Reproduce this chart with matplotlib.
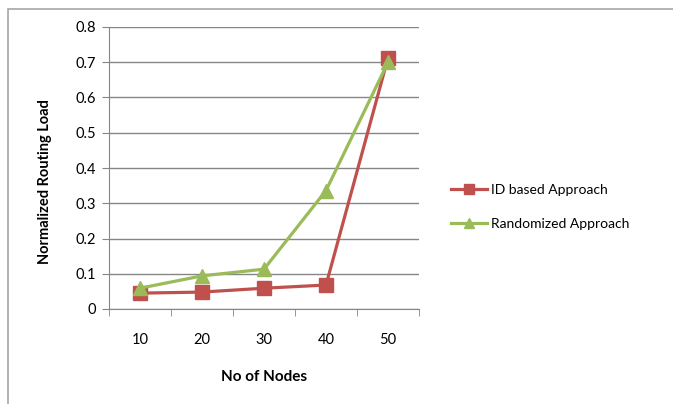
import numpy as np
import matplotlib.pyplot as plt
from matplotlib.patches import Rectangle

nodes = ["10", "20", "30", "40", "50"]
id_based = [0.045, 0.048, 0.059, 0.068, 0.712]
randomized = [0.059, 0.094, 0.113, 0.336, 0.700]

plt.rcParams['font.family'] = ['Lato', 'DejaVu Sans']

fig = plt.figure(figsize=(6.73, 4.04), dpi=100)
fig.patches.append(Rectangle((8 / 673, -0.1), 1.2, 1 - 9 / 404 + 0.1,
                             transform=fig.transFigure, fill=False,
                             edgecolor="#a6a6a6", linewidth=1.2))

ax = fig.add_axes([109 / 673, 1 - 309 / 404, 310 / 673, 282 / 404])
x = np.arange(len(nodes))
ax.plot(x, id_based, color="#C0504D", marker="s", markersize=9.5,
        linewidth=2.3, label="ID based Approach")
ax.plot(x, randomized, color="#9BBB59", marker="^", markersize=9.5,
        linewidth=2.3, label="Randomized Approach")

ax.set_xlim(-0.5, len(nodes) - 0.5)
ax.set_ylim(0, 0.8)
ax.set_yticks(np.arange(0, 0.81, 0.1))
ax.set_yticklabels(["0"] + ["%.1f" % v for v in np.arange(0.1, 0.81, 0.1)])
ax.set_xticks(x, labels=nodes)
ax.set_xticks(np.arange(len(nodes) + 1) - 0.5, minor=True)
ax.tick_params(axis="x", which="major", length=0, pad=17, labelsize=10.5)
ax.tick_params(axis="x", which="minor", length=5, color="#868686")
ax.tick_params(axis="y", length=5, color="#868686", labelsize=10.5, pad=4)
ax.grid(axis="y", color="#868686", linewidth=1)
ax.set_axisbelow(True)
for s in ["top", "right"]:
    ax.spines[s].set_visible(False)
for s in ["left", "bottom"]:
    ax.spines[s].set_color("#868686")

ax.set_xlabel("No of Nodes", fontweight="bold", fontsize=11)
ax.xaxis.set_label_coords(0.5, -(377 - 309) / 282)
ax.xaxis.label.set_va("center")
ax.set_ylabel("Normalized Routing Load", fontweight="bold", fontsize=10.5)
ax.yaxis.set_label_coords(-(109 - 45) / 310, (309 - 182) / 282)
ax.yaxis.label.set_va("center")

fig.legend(loc="center left", bbox_to_anchor=(438 / 673, 1 - 207 / 404),
           frameon=False, fontsize=10, handlelength=2.6, labelspacing=1.6,
           handletextpad=0.3, markerscale=0.75)

fig.savefig("out.png", dpi=100)
